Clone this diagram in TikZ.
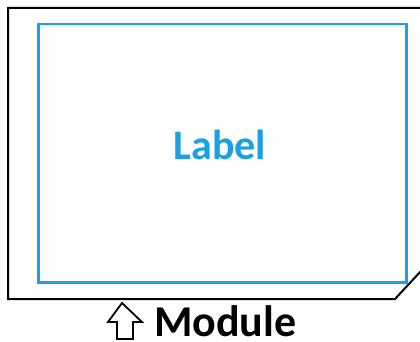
\documentclass[tikz,border=0pt]{standalone}
\usepackage{fontspec}
\setmainfont{Carlito}
\definecolor{labelblue}{HTML}{1BA1E2}
\begin{document}
\begin{tikzpicture}[x=1pt,y=-1pt,
  outer/.style={draw=black,line width=2pt,line join=miter},
  inner/.style={draw=labelblue,line width=2.5pt},
  arrowshape/.style={draw=black,line width=1.8pt,fill=white,line join=miter}]
\useasboundingbox (0,0) rectangle (420,342);
\draw[outer] (421,8) -- (8,8) -- (8,299) -- (395,299) -- (421,271);
\draw[line width=1pt] (8,8) -- (421,8);
\node[inner,minimum width=368pt,minimum height=258pt,inner sep=0pt,anchor=north west] (lbl) at (37,23) {};
\node[text=labelblue,font=\bfseries\fontsize{42}{44}\selectfont,anchor=base,inner sep=0pt] (ltxt) at (220,159) {Label};
\draw[arrowshape] (122,303) -- (142,322) -- (133,322) -- (133,339) -- (117,339) -- (117,322) -- (108,322) -- cycle;
\node[font=\bfseries\fontsize{44}{46}\selectfont,anchor=base west,inner sep=0pt] (mod) at (154,336) {Module};
\end{tikzpicture}
\end{document}
